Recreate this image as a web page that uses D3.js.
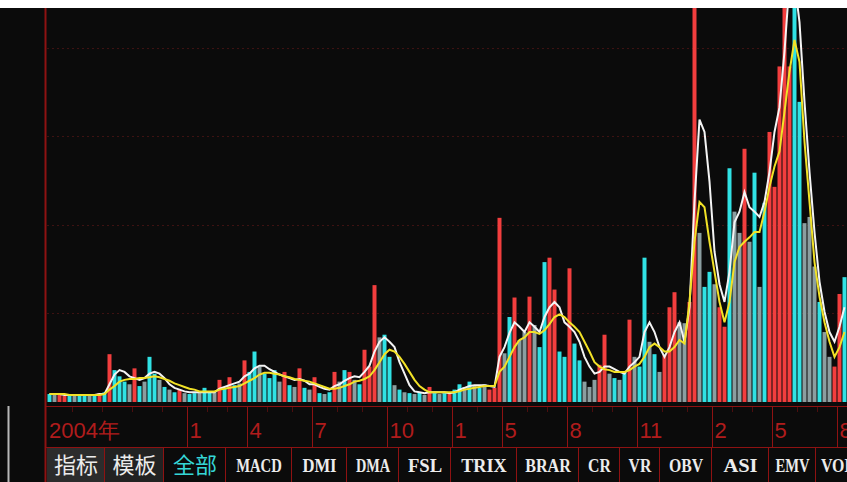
<!DOCTYPE html>
<html>
<head>
<meta charset="utf-8">
<script src="https://cdn.jsdelivr.net/npm/d3@7"></script>
<style>
body { margin: 0; background: #0b0b0b; overflow: hidden; }
</style>
</head>
<body>
<script>
// weekly volume (units: grid step = 100)
var vol = [
  9, 8, 9, 7, 8, 9, 8, 7, 9, 8,
  10, 11, 54, 36, 29, 23, 20, 38, 18, 23,
  51, 32, 25, 17, 14, 11, 14, 10, 9, 10,
  11, 16, 12, 11, 25, 16, 28, 19, 21, 47,
  34, 57, 40, 32, 27, 36, 23, 34, 19, 17,
  38, 16, 14, 28, 10, 9, 11, 34, 23, 36,
  34, 25, 20, 59, 40, 132, 73, 76, 51, 19,
  14, 11, 10, 9, 11, 8, 17, 10, 9, 10,
  9, 14, 20, 17, 23, 18, 16, 20, 14, 16,
  208, 55, 96, 118, 70, 79, 119, 87, 62, 158,
  163, 127, 57, 51, 151, 66, 47, 23, 17, 25,
  42, 76, 32, 27, 25, 33, 93, 51, 40, 163,
  68, 54, 34, 53, 107, 124, 90, 89, 113, 1130,
  191, 130, 147, 133, 107, 85, 264, 215, 191, 286,
  181, 259, 130, 225, 305, 243, 379, 520, 379, 540,
  339, 202, 209, 153, 113, 79, 51, 40, 122, 141
];

// bar colour per week: r = red, c = cyan, g = grey
var barKind = (
  "c g r r c g c c g c " + "r c r c c c g r c g " +
  "c c g c g c r g c c " + "g c c g r c r c g r " +
  "c c g c c c g r c g " + "r c g r c g c r g c " +
  "r g c r r r g c c g " + "c g c g c g r c g c " +
  "r c c g c g c g r r " + "r g c r g g r g c c " +
  "r r c c r c c g g g " + "r r g c g c r g c c " +
  "g c g r r r g g r r " + "g c c g r r c g g r " +
  "g c g c r r r r r c " + "c g g g c g g r r c"
).trim().split(" ");

// white average line
var maWhite = [
  9, 9, 9, 8, 8, 8, 8, 8, 8, 8,
  9, 9, 20, 31, 36, 34, 29, 27, 25, 27,
  32, 34, 32, 27, 20, 16, 14, 12, 11, 11,
  11, 11, 11, 11, 15, 17, 19, 21, 23, 29,
  32, 38, 41, 41, 37, 34, 31, 29, 27, 25,
  26, 24, 20, 20, 17, 15, 14, 18, 20, 24,
  27, 29, 28, 34, 41, 57, 68, 73, 68, 62,
  45, 32, 19, 12, 11, 10, 11, 11, 11, 11,
  10, 11, 14, 16, 18, 19, 19, 19, 18, 17,
  51, 62, 78, 90, 85, 79, 90, 85, 79, 96,
  107, 113, 107, 90, 85, 79, 68, 51, 40, 32,
  34, 40, 40, 37, 34, 32, 40, 45, 51, 79,
  90, 79, 62, 51, 62, 79, 90, 68, 107, 226,
  319, 305, 249, 170, 133, 113, 147, 203, 215, 237,
  220, 215, 209, 226, 260, 305, 333, 396, 475, 475,
  429, 339, 260, 192, 136, 102, 79, 68, 85, 107
];

// yellow average line
var maYellow = [
  9, 9, 9, 9, 8, 8, 8, 8, 8, 8,
  8, 9, 14, 18, 23, 25, 26, 26, 27, 27,
  28, 29, 28, 26, 24, 21, 19, 17, 15, 14,
  12, 12, 12, 12, 14, 15, 16, 17, 18, 21,
  24, 27, 31, 33, 33, 32, 31, 29, 28, 26,
  25, 24, 23, 21, 19, 17, 15, 15, 16, 18,
  20, 23, 24, 26, 29, 36, 45, 54, 59, 57,
  51, 43, 34, 25, 18, 14, 11, 11, 11, 11,
  11, 11, 12, 14, 15, 16, 17, 18, 18, 18,
  34, 40, 51, 62, 70, 73, 79, 79, 77, 81,
  88, 96, 99, 96, 90, 85, 79, 68, 57, 45,
  40, 37, 36, 34, 34, 34, 36, 40, 43, 51,
  62, 66, 62, 57, 57, 62, 70, 66, 113, 181,
  226, 220, 181, 147, 113, 90, 113, 158, 175, 181,
  186, 192, 192, 215, 243, 266, 283, 328, 373, 409,
  384, 294, 226, 158, 119, 90, 68, 51, 62, 79
];

var gridValues = [100, 200, 300, 400];
var yearLabel = "2004年";
var monthTickIdx = [28, 40, 53, 68, 81, 91, 104, 118, 133, 145, 158];
var monthLabels = ["1", "4", "7", "10", "1", "5", "8", "11", "2", "5", "8"];
var minorTickIdx = [5, 11, 17, 23, 32, 36, 44, 49, 58, 63, 72, 77, 86, 96, 100, 109, 113, 123, 128, 137, 141, 150, 154];
var tabNames = ["指标", "模板", "全部", "MACD", "DMI", "DMA", "FSL", "TRIX", "BRAR", "CR", "VR", "OBV", "ASI", "EMV", "VOL"];
var tabEdges = [46, 104, 163, 225, 291, 346, 398, 450, 516, 578, 619, 659, 711, 768, 815, 859];

var W = 847, H = 482;
var plotTop = 8, base = 402;
var red = "#8e1212";
var kindColor = { r: "#f23e3e", c: "#30e2e4", g: "#8b9ea0" };

var svg = d3.select("body").append("svg").attr("width", W).attr("height", H)
  .style("display", "block").style("background", "#0b0b0b");

// white strip along the top
svg.append("rect").attr("x", 0).attr("y", 0).attr("width", W).attr("height", plotTop).attr("fill", "#ffffff");

var x = d3.scaleBand().domain(d3.range(vol.length)).range([47, 847]).paddingInner(0.2).paddingOuter(0.1);
var y = d3.scaleLinear().domain([0, 445]).range([base, plotTop]);

svg.append("clipPath").attr("id", "plot")
  .append("rect").attr("x", 46).attr("y", plotTop).attr("width", W - 46).attr("height", base - plotTop);

// dotted grid
svg.append("g").selectAll("line").data(gridValues).join("line")
  .attr("x1", 47).attr("x2", W)
  .attr("y1", function(d) { return Math.round(y(d)) + 0.5; })
  .attr("y2", function(d) { return Math.round(y(d)) + 0.5; })
  .attr("stroke", "#3e1212").attr("stroke-dasharray", "2,3");

var plot = svg.append("g").attr("clip-path", "url(#plot)");

plot.selectAll("rect.bar").data(vol).join("rect").attr("class", "bar")
  .attr("x", function(d, i) { return x(i); })
  .attr("width", x.bandwidth())
  .attr("y", function(d) { return y(d); })
  .attr("height", function(d) { return base - y(d); })
  .attr("fill", function(d, i) { return kindColor[barKind[i]]; });

var line = d3.line()
  .x(function(d, i) { return x(i) + x.bandwidth() / 2; })
  .y(function(d) { return y(d); });

plot.append("path").datum(maWhite).attr("d", line)
  .attr("fill", "none").attr("stroke", "#f4f4f4").attr("stroke-width", 2);
plot.append("path").datum(maYellow).attr("d", line)
  .attr("fill", "none").attr("stroke", "#f2e227").attr("stroke-width", 2);

// left frame line
svg.append("line").attr("x1", 45.5).attr("x2", 45.5).attr("y1", plotTop).attr("y2", H)
  .attr("stroke", red).attr("stroke-width", 2);
// cut-off axis remnant at far left
svg.append("line").attr("x1", 8.5).attr("x2", 8.5).attr("y1", 406).attr("y2", H)
  .attr("stroke", "#b8b8b8").attr("stroke-width", 2);

// time axis band
var axisTop = 406.5, axisBottom = 447.5;
svg.append("line").attr("x1", 46).attr("x2", W).attr("y1", axisTop).attr("y2", axisTop).attr("stroke", red);
svg.append("line").attr("x1", 46).attr("x2", W).attr("y1", axisBottom).attr("y2", axisBottom).attr("stroke", red);

svg.append("g").selectAll("line").data(minorTickIdx).join("line")
  .attr("x1", function(d) { return Math.round(x(d)) - 0.5; })
  .attr("x2", function(d) { return Math.round(x(d)) - 0.5; })
  .attr("y1", axisTop).attr("y2", axisTop + 6)
  .attr("stroke", red).attr("stroke-dasharray", "1,1");

svg.append("g").selectAll("line").data(monthTickIdx).join("line")
  .attr("x1", function(d) { return Math.round(x(d)) - 0.5; })
  .attr("x2", function(d) { return Math.round(x(d)) - 0.5; })
  .attr("y1", axisTop).attr("y2", axisBottom)
  .attr("stroke", red);

var axisFont = "'Liberation Sans', Arial, sans-serif";
svg.append("text").attr("x", 49).attr("y", 438).text(yearLabel)
  .attr("fill", "#b01c1c").style("font-family", axisFont).style("font-size", "22px");
svg.append("g").selectAll("text").data(monthTickIdx).join("text")
  .attr("x", function(d) { return x(d) + 2; })
  .attr("y", 438)
  .text(function(d, i) { return monthLabels[i]; })
  .attr("fill", "#b01c1c").style("font-family", axisFont).style("font-size", "22px");

// indicator tabs
var tabs = svg.append("g");
tabNames.forEach(function(name, i) {
  var x0 = tabEdges[i], x1 = tabEdges[i + 1];
  var cjk = i < 3;
  if (i < 2) {
    tabs.append("rect").attr("x", x0 + 1).attr("y", 448).attr("width", x1 - x0 - 1).attr("height", H - 448)
      .attr("fill", i === 0 ? "#2c2c2c" : "#222222");
  }
  if (i < tabNames.length - 1) {
    tabs.append("line").attr("x1", x1 + 0.5).attr("x2", x1 + 0.5).attr("y1", 448).attr("y2", H)
      .attr("stroke", red);
  }
  var t = tabs.append("text")
    .attr("x", (x0 + x1) / 2 + 1).attr("y", cjk ? 473 : 472)
    .attr("text-anchor", "middle")
    .text(name)
    .attr("fill", i === 2 ? "#35d6d6" : "#ececec")
    .style("font-family", cjk ? "'Noto Sans CJK SC', sans-serif" : "'Liberation Serif', serif")
    .style("font-weight", cjk ? "normal" : "bold")
    .style("font-size", cjk ? "22px" : "19px");
  if (!cjk) {
    t.attr("textLength", name.length * 11.4).attr("lengthAdjust", "spacingAndGlyphs");
  }
});
</script>
</body>
</html>
